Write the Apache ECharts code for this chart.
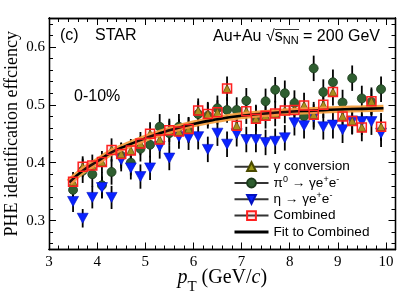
<!DOCTYPE html>
<html><head><meta charset="utf-8">
<script src="https://cdn.jsdelivr.net/npm/echarts@6/dist/echarts.min.js"></script>
<style>html,body{margin:0;padding:0;background:#fff}#c{width:411px;height:295px}</style>
</head><body><div id="c"></div>
<script>
const pT = [3.5,3.7,3.9,4.1,4.3,4.5,4.7,4.9,5.1,5.3,5.5,5.7,5.9,6.1,6.3,6.5,6.7,6.9,7.1,7.3,7.5,7.7,7.9,8.1,8.3,8.5,8.7,8.9,9.1,9.3,9.5,9.7,9.9];
const gammaConv = [0.367,0.393,0.395,0.401,0.422,0.415,0.421,0.433,0.450,0.440,0.456,0.454,0.458,0.490,0.484,0.487,0.528,0.464,0.489,0.476,0.481,0.485,0.490,0.491,0.499,0.483,0.500,0.522,0.480,0.472,0.461,0.506,0.462];
const gammaErr  = [0.017,0.018,0.019,0.019,0.020,0.020,0.020,0.020,0.020,0.020,0.020,0.021,0.021,0.021,0.021,0.021,0.021,0.022,0.022,0.022,0.022,0.022,0.022,0.022,0.022,0.022,0.023,0.023,0.023,0.023,0.024,0.024,0.024];
const pi0 = [0.353,0.386,0.380,0.361,0.384,0.412,0.400,0.424,0.431,0.462,0.451,0.462,0.456,0.484,0.481,0.494,0.491,0.491,0.507,0.478,0.506,0.526,0.520,0.503,0.480,0.563,0.522,0.539,0.504,0.546,0.511,0.505,0.527];
const pi0Err = [0.020,0.021,0.022,0.022,0.022,0.022,0.022,0.022,0.022,0.022,0.022,0.022,0.022,0.022,0.022,0.022,0.022,0.022,0.022,0.022,0.022,0.022,0.022,0.022,0.022,0.022,0.022,0.022,0.022,0.022,0.022,0.022,0.022];
const eta = [0.333,0.304,0.340,0.357,0.340,0.405,0.391,0.376,0.391,0.428,0.408,0.445,0.443,0.445,0.423,0.451,0.432,0.450,0.440,0.440,0.435,0.437,0.443,0.469,0.464,0.479,0.462,0.465,0.457,0.472,0.471,0.471,0.451];
const etaErr = [0.018,0.016,0.019,0.019,0.020,0.020,0.020,0.021,0.021,0.021,0.021,0.021,0.021,0.022,0.022,0.022,0.022,0.022,0.022,0.022,0.022,0.022,0.022,0.022,0.022,0.022,0.022,0.023,0.023,0.023,0.023,0.023,0.024];
const combined = [0.367,0.393,0.395,0.401,0.422,0.415,0.421,0.433,0.450,0.440,0.456,0.454,0.458,0.490,0.484,0.487,0.528,0.464,0.489,0.476,0.481,0.485,0.490,0.491,0.499,0.483,0.500,0.522,0.480,0.472,0.461,0.506,0.462];
const fitX = [3.42,3.7,4.0,4.3,4.6,5.0,5.5,6.0,6.5,7.0,7.5,8.0,8.5,9.0,9.5,9.95];
const fitY = [0.366,0.386,0.402,0.418,0.429,0.442,0.456,0.467,0.475,0.481,0.485,0.488,0.490,0.492,0.493,0.494];
const xTicks = [3,4,5,6,7,8,9,10];
const yTicks = [0.3,0.4,0.5,0.6];

const xMin = 3, xMax = 10.2, yMin = 0.25, yMax = 0.65;
function minorTicks(lo, hi, step, majors) {
  const out = [];
  const n = Math.round((hi - lo) / step);
  for (let i = 0; i <= n; i++) {
    const v = +(lo + i * step).toFixed(4);
    if (!majors.some(m => Math.abs(m - v) < 1e-6)) out.push(v);
  }
  return out;
}
const xMinor = minorTicks(3, 10.2, 0.2, xTicks);
const yMinor = minorTicks(0.26, 0.64, 0.02, yTicks);

const serif = 'Liberation Serif', sans = 'Liberation Sans';
const axisLine = {show: true, onZero: false, lineStyle: {color: '#000', width: 1.3}};
function xAx(pos, vals, len, labels, extra) {
  return Object.assign({
    type: 'value', position: pos, min: xMin, max: xMax,
    axisLine: axisLine, splitLine: {show: false},
    axisTick: {show: true, inside: true, length: len, customValues: vals, lineStyle: {color: '#000', width: 1}},
    axisLabel: labels ? {customValues: xTicks, fontFamily: serif, fontSize: 15, color: '#000', margin: 5} : {show: false}
  }, extra || {});
}
function yAx(pos, vals, len, labels, extra) {
  return Object.assign({
    type: 'value', position: pos, min: yMin, max: yMax,
    axisLine: axisLine, splitLine: {show: false},
    axisTick: {show: true, inside: true, length: len, customValues: vals, lineStyle: {color: '#000', width: 1}},
    axisLabel: labels ? {customValues: yTicks, fontFamily: serif, fontSize: 15, color: '#000', margin: 4,
      formatter: v => v.toFixed(1)} : {show: false}
  }, extra || {});
}

function errSeries(vals, errs, z) {
  return {
    type: 'custom', silent: true, z: z,
    data: pT.map((x, i) => [x, vals[i] - errs[i], vals[i] + errs[i]]),
    renderItem: (params, api) => {
      const a = api.coord([api.value(0), api.value(1)]);
      const b = api.coord([api.value(0), api.value(2)]);
      return {type: 'line', shape: {x1: a[0], y1: a[1], x2: b[0], y2: b[1]}, style: {stroke: '#000', lineWidth: 1.8}};
    }
  };
}
function markSeries(name, vals, symbol, size, itemStyle, z) {
  return {
    name: name, type: 'line', data: pT.map((x, i) => [x, vals[i]]),
    symbol: symbol, symbolSize: size, showSymbol: true, showAllSymbol: true,
    lineStyle: {opacity: 0, width: 0}, itemStyle: itemStyle, z: z,
    emphasis: {disabled: true}, animation: false
  };
}
const downTri = 'path://M0,0L10,0L5,9Z';
const legendLine = {color: '#333', width: 2, opacity: 1};

const chart = echarts.init(document.getElementById('c'), null, {renderer: 'canvas'});
chart.setOption({
  animation: false,
  backgroundColor: '#fff',
  grid: {left: 49, right: 15.5, top: 18, bottom: 45.5, containLabel: false, outerBoundsMode: 'none'},
  xAxis: [
    xAx('bottom', xTicks, 7, true, {
      name: '{i|p}{sub|T} (GeV/{i|c})', nameLocation: 'middle', nameGap: 12, nameMoveOverlap: false,
      nameTextStyle: {fontFamily: serif, fontSize: 20, color: '#000', lineHeight: 33, verticalAlign: 'top',
        rich: {i: {fontFamily: serif, fontSize: 20, fontStyle: 'italic', lineHeight: 33},
               sub: {fontFamily: serif, fontSize: 15, lineHeight: 15, verticalAlign: 'bottom'}}}
    }),
    xAx('bottom', xMinor, 4, false),
    xAx('top', xTicks, 7, false),
    xAx('top', xMinor, 4, false)
  ],
  yAxis: [
    yAx('left', yTicks, 7, true, {
      name: 'PHE identification effciency', nameLocation: 'middle', nameGap: 28, nameMoveOverlap: false,
      nameTextStyle: {fontFamily: serif, fontSize: 18, color: '#000'}
    }),
    yAx('left', yMinor, 4, false),
    yAx('right', yTicks, 7, false),
    yAx('right', yMinor, 4, false)
  ],
  legend: {
    orient: 'vertical', left: 233, top: 158.7, padding: 0,
    itemWidth: 34, itemHeight: 11, itemGap: 0.3,
    selectedMode: false,
    textStyle: {fontFamily: sans, fontSize: 13.6, color: '#000', lineHeight: 16,
      rich: {sup: {fontFamily: sans, fontSize: 9, lineHeight: 9, verticalAlign: 'top', color: '#000'}}},
    formatter: n => ({
      'pi0': 'π{sup|0} → γe{sup|+}e{sup|-}',
      'eta': 'η → γe{sup|+}e{sup|-}'
    })[n] || n,
    data: [
      {name: 'γ conversion', lineStyle: legendLine},
      {name: 'pi0', lineStyle: legendLine},
      {name: 'eta', lineStyle: legendLine},
      {name: 'Combined', lineStyle: legendLine},
      {name: 'Fit to Combined', lineStyle: {color: '#000', width: 3, opacity: 1}, itemStyle: {opacity: 0}}
    ]
  },
  series: [
    errSeries(pi0, pi0Err, 2),
    errSeries(eta, etaErr, 2),
    errSeries(gammaConv, gammaErr, 2),
    markSeries('pi0', pi0, 'circle', 9, {color: '#2f5e30', borderColor: '#1c3a1c', borderWidth: 0.8}, 3),
    markSeries('eta', eta, downTri, [11, 10], {color: '#0a22ff', borderColor: '#0010c0', borderWidth: 0.6}, 4),
    markSeries('γ conversion', gammaConv, 'triangle', 8, {color: '#9c9a14', borderColor: '#4a4a00', borderWidth: 0.8}, 5),
    {type: 'line', data: fitX.map((x, i) => [x, fitY[i]]), smooth: true, symbol: 'none', silent: true, z: 6,
      lineStyle: {color: '#f5a040', width: 7, opacity: 0.95}},
    {name: 'Fit to Combined', type: 'line', data: fitX.map((x, i) => [x, fitY[i]]), smooth: true, symbol: 'none', z: 7,
      lineStyle: {color: '#000', width: 2.6}, itemStyle: {color: '#000'}},
    markSeries('Combined', combined, 'rect', 9, {color: 'rgba(255,80,80,0.15)', borderColor: '#ff2020', borderWidth: 1.5}, 8)
  ],
  graphic: [
    {type: 'text', left: 60, top: 28, style: {text: '(c)', font: '16px "Liberation Sans"', fill: '#000'}},
    {type: 'text', left: 95, top: 28, style: {text: 'STAR', font: '16px "Liberation Sans"', fill: '#000'}},
    {type: 'text', left: 74, top: 89, style: {text: '0-10%', font: '16px "Liberation Sans"', fill: '#000'}},
    {type: 'text', x: 213, y: 37, style: {
      text: 'Au+Au √{o|s}{sub|NN} = 200 GeV', fill: '#000', fontFamily: sans, fontSize: 16, lineHeight: 19,
      verticalAlign: 'middle', align: 'left',
      rich: {o: {fontFamily: sans, fontSize: 16, lineHeight: 19},
             sub: {fontFamily: sans, fontSize: 11, lineHeight: 11, verticalAlign: 'bottom'}}}},
    {type: 'line', shape: {x1: 275, y1: 29.5, x2: 299, y2: 29.5}, style: {stroke: '#000', lineWidth: 0.8}}
  ]
});
</script></body></html>
